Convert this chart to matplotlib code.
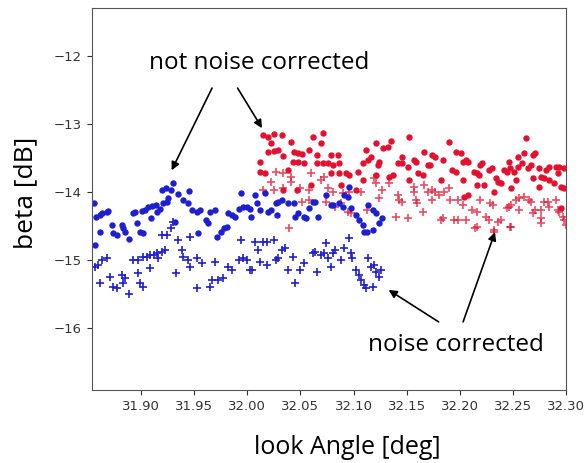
import matplotlib
matplotlib.use("Agg")
import matplotlib.pyplot as plt

# not noise corrected, low look angles (blue dots)
blue_dot_x = [31.856, 31.858, 31.862, 31.864, 31.868, 31.869, 31.862, 31.873, 31.874, 31.878,
              31.882, 31.883, 31.885, 31.889, 31.893, 31.895, 31.896, 31.899, 31.902, 31.901,
              31.904, 31.907, 31.911, 31.914, 31.910, 31.915, 31.918, 31.921, 31.925, 31.926,
              31.920, 31.924, 31.928, 31.930, 31.935, 31.940, 31.944, 31.932, 31.945, 31.948,
              31.953, 31.994, 32.007, 32.017, 31.956, 31.961, 31.963, 31.965, 31.970, 31.954,
              31.972, 31.975, 31.978, 31.981, 31.982, 31.986, 31.989, 31.992, 31.996, 32.000,
              32.003, 32.004, 32.009, 32.012, 32.020, 32.022, 32.027, 32.029, 32.033, 32.028,
              32.038, 32.044, 32.045, 32.048, 32.053, 32.055, 32.058, 32.062, 32.064, 32.067,
              32.074, 32.079, 32.081, 32.086, 32.090, 32.091, 32.095, 32.096, 32.098, 32.102,
              32.105, 32.109, 32.110, 32.113, 32.114, 32.118, 32.121, 32.124, 32.127, 32.118,
              31.857]
blue_dot_y = [-14.16, -14.37, -14.34, -14.31, -14.29, -14.28, -14.59, -14.49, -14.60, -14.63,
              -14.49, -14.53, -14.59, -14.69, -14.31, -14.29, -14.46, -14.59, -14.60, -14.28,
              -14.26, -14.22, -14.21, -14.19, -14.38, -14.29, -14.25, -14.16, -14.15, -14.09,
              -13.97, -13.94, -13.97, -13.87, -14.03, -14.12, -14.16, -14.44, -13.99, -14.26,
              -14.29, -14.01, -14.04, -14.01, -14.26, -14.41, -14.46, -14.29, -14.26, -14.60,
              -14.66, -14.59, -14.53, -14.51, -14.31, -14.34, -14.37, -14.25, -14.22, -14.22,
              -14.25, -14.37, -14.16, -14.26, -14.29, -14.26, -14.16, -14.15, -14.12, -14.34,
              -14.16, -14.16, -14.37, -14.31, -14.37, -14.38, -14.24, -14.15, -14.15, -14.37,
              -14.04, -14.19, -14.19, -14.16, -14.22, -14.04, -14.07, -13.93, -14.24, -14.34,
              -14.41, -14.49, -14.59, -14.59, -14.19, -14.26, -14.31, -14.46, -14.38, -14.56,
              -14.78]

# noise corrected, low look angles (blue pluses)
blue_plus_x = [31.857, 31.860, 31.864, 31.868, 31.862, 31.871, 31.874, 31.878, 31.882, 31.885,
               31.883, 31.889, 31.893, 31.897, 31.897, 31.899, 31.902, 31.902, 31.906, 31.909,
               31.912, 31.915, 31.909, 31.916, 31.920, 31.923, 31.920, 31.925, 31.928, 31.930,
               31.933, 31.935, 31.939, 31.940, 31.944, 31.946, 31.946, 31.953, 31.953, 31.958,
               31.965, 31.967, 31.970, 31.973, 31.977, 31.982, 31.986, 31.994, 31.992, 31.996,
               32.000, 32.003, 32.005, 32.007, 32.010, 32.015, 32.019, 32.025, 32.012, 32.019,
               32.027, 32.029, 32.033, 32.036, 32.038, 32.043, 32.045, 32.050, 32.053, 32.062,
               32.064, 32.066, 32.069, 32.072, 32.074, 32.076, 32.079, 32.081, 32.083, 32.088,
               32.091, 32.096, 32.098, 32.099, 32.102, 32.105, 32.107, 32.110, 32.112, 32.114,
               32.116, 32.119, 32.121, 32.124, 32.118, 32.126]
blue_plus_y = [-15.10, -15.07, -15.00, -14.97, -15.34, -15.25, -15.40, -15.41, -15.22, -15.26,
               -15.34, -15.50, -15.00, -15.00, -15.19, -15.34, -15.40, -14.96, -14.96, -14.93,
               -14.93, -14.90, -15.12, -14.97, -14.88, -14.85, -14.63, -14.63, -14.53, -14.44,
               -15.19, -14.71, -14.85, -14.96, -15.00, -14.66, -15.10, -15.41, -14.97, -15.04,
               -15.40, -15.29, -15.03, -15.29, -15.26, -15.10, -15.15, -14.71, -15.00, -14.97,
               -15.00, -15.15, -15.15, -14.74, -14.85, -14.74, -14.74, -14.71, -15.03, -15.07,
               -15.00, -14.97, -14.85, -14.82, -15.15, -14.96, -15.34, -15.15, -15.04, -14.90,
               -14.88, -15.18, -14.93, -14.90, -14.75, -14.97, -15.10, -14.90, -14.85, -15.00,
               -14.82, -14.68, -14.90, -14.97, -15.15, -15.22, -15.29, -15.37, -15.41, -14.97,
               -15.10, -15.07, -15.18, -15.25, -15.40, -15.15]

# not noise corrected, high look angles (red dots)
red_dot_x = [32.015, 32.020, 32.025, 32.033, 32.022, 32.041, 32.020, 32.025, 32.029, 32.012,
             32.034, 32.044, 32.048, 32.052, 32.043, 32.048, 32.053, 32.062, 32.071, 32.069,
             32.058, 32.066, 32.066, 32.071, 32.076, 32.079, 32.081, 32.086, 32.085, 32.086,
             32.093, 32.096, 32.012, 32.017, 32.038, 32.079, 32.152, 32.121, 32.135, 32.112,
             32.116, 32.114, 32.128, 32.132, 32.124, 32.123, 32.109, 32.104, 32.142, 32.146,
             32.151, 32.146, 32.157, 32.159, 32.166, 32.174, 32.177, 32.184, 32.190, 32.196,
             32.170, 32.172, 32.193, 32.196, 32.161, 32.165, 32.133, 32.137, 32.152, 32.182,
             32.203, 32.121, 32.109, 32.262, 32.260, 32.269, 32.271, 32.201, 32.206, 32.208,
             32.221, 32.213, 32.216, 32.218, 32.227, 32.230, 32.241, 32.244, 32.247, 32.251,
             32.255, 32.258, 32.264, 32.267, 32.274, 32.281, 32.284, 32.290, 32.293, 32.298,
             32.292, 32.234, 32.236, 32.239, 32.253, 32.269, 32.276, 32.279, 32.284, 32.288,
             32.216, 32.223, 32.232, 32.248, 32.203, 32.274, 32.295, 32.298, 32.204, 32.208,
             32.295, 32.034, 32.047, 32.060, 32.088, 32.102, 32.219, 32.246, 32.255]
red_dot_y = [-13.16, -13.19, -13.15, -13.16, -13.28, -13.26, -13.41, -13.40, -13.38, -13.56,
             -13.47, -13.41, -13.43, -13.44, -13.56, -13.56, -13.57, -13.19, -13.13, -13.28,
             -13.38, -13.46, -13.57, -13.57, -13.57, -13.46, -13.60, -13.57, -13.46, -13.72,
             -13.72, -13.75, -13.71, -13.72, -13.68, -13.72, -13.19, -13.28, -13.25, -13.38,
             -13.49, -13.53, -13.35, -13.34, -13.56, -13.60, -13.57, -13.71, -13.57, -13.57,
             -13.63, -13.49, -13.53, -13.56, -13.41, -13.46, -13.49, -13.53, -13.26, -13.41,
             -13.60, -13.60, -13.68, -13.71, -13.72, -13.75, -13.78, -13.75, -13.82, -13.82,
             -13.56, -13.75, -13.82, -13.21, -13.43, -13.46, -13.43, -13.43, -13.53, -13.56,
             -13.57, -13.71, -13.72, -13.75, -13.68, -13.65, -13.68, -13.71, -13.65, -13.71,
             -13.63, -13.57, -13.65, -13.60, -13.65, -13.68, -13.63, -13.63, -13.63, -13.65,
             -13.72, -13.79, -13.85, -13.87, -13.82, -13.79, -13.78, -13.79, -13.82, -13.87,
             -13.90, -13.90, -14.00, -13.94, -13.82, -13.93, -13.93, -13.94, -14.07, -14.04,
             -14.24, -13.97, -13.97, -13.90, -13.90, -13.97, -13.60, -13.56, -13.49]

# noise corrected, high look angles (red pluses)
red_plus_x = [32.027, 32.034, 32.041, 32.022, 32.041, 32.060, 32.069, 32.072, 32.025, 32.034,
              32.050, 32.058, 32.076, 32.081, 32.090, 32.096, 32.052, 32.058, 32.083, 32.088,
              32.095, 32.098, 32.039, 32.074, 32.015, 32.119, 32.121, 32.133, 32.107, 32.124,
              32.127, 32.113, 32.142, 32.143, 32.157, 32.159, 32.160, 32.146, 32.170, 32.174,
              32.177, 32.180, 32.185, 32.190, 32.157, 32.166, 32.174, 32.191, 32.198, 32.151,
              32.165, 32.182, 32.184, 32.194, 32.198, 32.140, 32.203, 32.211, 32.216, 32.206,
              32.219, 32.228, 32.231, 32.225, 32.227, 32.216, 32.236, 32.239, 32.232, 32.244,
              32.246, 32.248, 32.253, 32.256, 32.260, 32.248, 32.265, 32.267, 32.269, 32.271,
              32.276, 32.276, 32.279, 32.283, 32.284, 32.290, 32.292, 32.293, 32.297, 32.298,
              32.300, 32.276, 32.256, 32.232, 32.214, 32.247]
red_plus_y = [-13.71, -13.72, -13.78, -13.85, -13.85, -13.72, -13.82, -13.78, -13.97, -13.94,
              -13.94, -13.97, -13.94, -14.00, -14.01, -14.00, -14.15, -14.12, -14.22, -14.16,
              -14.29, -14.31, -14.53, -14.15, -13.97, -13.79, -13.87, -13.87, -14.00, -14.09,
              -13.97, -14.26, -14.04, -14.12, -14.00, -14.12, -14.16, -14.15, -14.00, -13.97,
              -14.00, -14.04, -14.00, -13.94, -13.93, -13.90, -14.12, -14.12, -14.12, -14.38,
              -14.29, -14.41, -14.38, -14.41, -14.41, -14.37, -14.19, -14.26, -14.29, -14.41,
              -14.12, -14.16, -14.19, -14.37, -14.41, -14.51, -14.44, -14.41, -14.56, -14.24,
              -14.22, -14.19, -14.12, -14.09, -14.07, -14.51, -14.12, -14.15, -14.31, -14.26,
              -14.46, -14.38, -14.15, -14.15, -14.22, -14.12, -14.26, -14.29, -14.37, -14.41,
              -14.49, -14.26, -14.26, -14.59, -14.53, -14.51]

x_ticks = [31.90, 31.95, 32.00, 32.05, 32.10, 32.15, 32.20, 32.25, 32.30]
y_ticks = [-16, -15, -14, -13, -12]

label_font = ["Open Sans", "DejaVu Sans"]
blue = "#1f1fd2"
red = "#e5102e"

fig = plt.figure(figsize=(5.85, 4.63), dpi=100)
ax = fig.add_axes([0.157, 0.158, 0.811, 0.825])

ax.plot(red_plus_x, red_plus_y, "+", color=red, alpha=0.75, markersize=6, mew=1.2, linestyle="none")
ax.plot(red_dot_x, red_dot_y, "o", color=red, markersize=4.6, mew=0, linestyle="none")
ax.plot(blue_plus_x, blue_plus_y, "+", color=blue, markersize=6, mew=1.2, linestyle="none")
ax.plot(blue_dot_x, blue_dot_y, "o", color=blue, markersize=4.6, mew=0, linestyle="none")

ax.set_xlim(31.854, 32.30)
ax.set_ylim(-16.91, -11.29)
ax.set_xticks(x_ticks)
ax.set_xticklabels([f"{v:.2f}" for v in x_ticks])
ax.set_yticks(y_ticks)
ax.tick_params(labelsize=9.5, colors="#333333")
for s in ax.spines.values():
    s.set_color("#555555")

ax.set_xlabel("look Angle [deg]", fontsize=18, family=label_font)
ax.xaxis.set_label_coords(0.538, -0.118)
ax.set_ylabel("beta [dB]", fontsize=19, family=label_font)
ax.yaxis.set_label_coords(-0.114, 0.515)

arrow = dict(arrowstyle="-|>", color="black", lw=1.2, mutation_scale=12, shrinkA=0, shrinkB=0)
ax.text(32.011, -12.10, "not noise corrected", fontsize=17.5, family=label_font, ha="center", va="center")
ax.annotate("", xy=(31.929, -13.68), xytext=(31.967, -12.47), arrowprops=arrow)
ax.annotate("", xy=(32.014, -13.06), xytext=(31.991, -12.47), arrowprops=arrow)
ax.text(32.196, -16.25, "noise corrected", fontsize=17.5, family=label_font, ha="center", va="center")
ax.annotate("", xy=(32.133, -15.44), xytext=(32.180, -15.91), arrowprops=arrow)
ax.annotate("", xy=(32.233, -14.59), xytext=(32.203, -15.91), arrowprops=arrow)

fig.savefig("out.png", dpi=100)
